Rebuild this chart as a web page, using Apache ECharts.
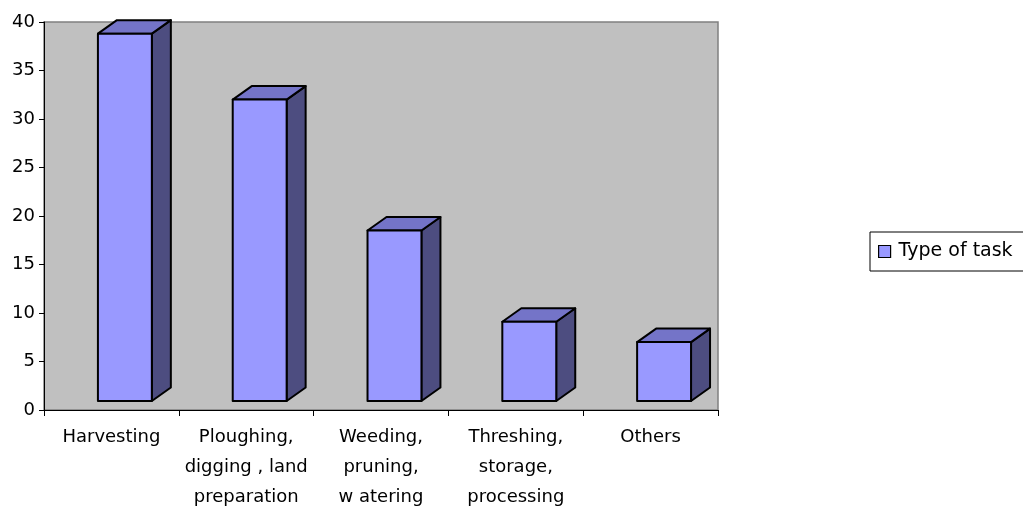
<!DOCTYPE html>
<html>
<head>
<meta charset="utf-8">
<script src="https://cdn.jsdelivr.net/npm/echarts@6/dist/echarts.min.js"></script>
<style>
  html, body { margin: 0; padding: 0; background: #ffffff; }
  #chart { width: 1023px; height: 508px; }
</style>
</head>
<body>
<div id="chart"></div>
<script>
// Share of respondents by type of farm task
const categories = [
  'Harvesting',
  'Ploughing,\ndigging , land\npreparation',
  'Weeding,\npruning,\nw atering',
  'Threshing,\nstorage,\nprocessing',
  'Others'
];
const taskValues = [38.8, 32.0, 18.5, 9.1, 7.0];
const seriesName = 'Type of task';
const yTicks = { min: 0, max: 40, interval: 5 };

const FONT = 'DejaVu Sans';
const FRONT = '#9999FF';
const SIDE = '#4D4D80';
const TOP = '#7474C8';

const chart = echarts.init(document.getElementById('chart'), null, { renderer: 'canvas' });

// Draws one column as a box: front face, right side and top.
function renderBox(params, api) {
  const idx = api.value(0);
  const val = api.value(1);
  const topPt = api.coord([idx, val]);
  const basePt = api.coord([idx, 0]);
  const band = api.size([1, 0])[0];
  const w = band * 0.4;
  const x0 = basePt[0] - band / 2 + band * 0.4;
  const yb = basePt[1] - 9;   // floor sits slightly above the axis line
  const yt = topPt[1];
  const dx = 19, dy = 13.5;  // depth of the box
  const stroke = { stroke: '#000', lineWidth: 2, lineJoin: 'round' };
  return {
    type: 'group',
    children: [
      {
        type: 'polygon',
        shape: { points: [[x0 + w, yt], [x0 + w + dx, yt - dy], [x0 + w + dx, yb - dy], [x0 + w, yb]] },
        style: Object.assign({ fill: SIDE }, stroke)
      },
      {
        type: 'polygon',
        shape: { points: [[x0, yt], [x0 + dx, yt - dy], [x0 + w + dx, yt - dy], [x0 + w, yt]] },
        style: Object.assign({ fill: TOP }, stroke)
      },
      {
        type: 'rect',
        shape: { x: x0, y: yt, width: w, height: yb - yt },
        style: Object.assign({ fill: FRONT }, stroke)
      }
    ]
  };
}

const option = {
  animation: false,
  backgroundColor: '#ffffff',
  textStyle: { fontFamily: FONT },
  grid: {
    left: 44, right: 305, top: 22, bottom: 98,
    outerBoundsMode: 'none',
    containLabel: false,
    show: true,
    backgroundColor: '#C0C0C0',
    borderColor: '#808080',
    borderWidth: 1.5
  },
  legend: {
    show: true,
    left: 870, top: 232,
    orient: 'vertical',
    data: [{ name: seriesName, icon: 'rect' }],
    itemWidth: 12, itemHeight: 12, itemGap: 0,
    padding: [10, 12, 10, 8],
    borderColor: '#000', borderWidth: 1,
    backgroundColor: '#ffffff',
    itemStyle: { color: FRONT, borderColor: '#000', borderWidth: 1.2 },
    textStyle: { fontFamily: FONT, fontSize: 19, color: '#000', padding: [2, 0, 0, 3] }
  },
  xAxis: {
    type: 'category',
    data: categories,
    boundaryGap: true,
    axisLine: { show: true, lineStyle: { color: '#000', width: 1 } },
    axisTick: { show: true, alignWithLabel: false, length: 6, lineStyle: { color: '#000' } },
    axisLabel: {
      interval: 0, color: '#000', fontFamily: FONT, fontSize: 18,
      lineHeight: 30, margin: 12, align: 'center'
    },
    splitLine: { show: false }
  },
  yAxis: {
    type: 'value',
    min: yTicks.min, max: yTicks.max, interval: yTicks.interval,
    axisLine: { show: true, lineStyle: { color: '#000', width: 1 } },
    axisTick: { show: true, length: 5, lineStyle: { color: '#000' } },
    axisLabel: { color: '#000', fontFamily: FONT, fontSize: 18, margin: 9 },
    splitLine: { show: false }
  },
  series: [{
    name: seriesName,
    type: 'custom',
    renderItem: renderBox,
    itemStyle: { color: FRONT, borderColor: '#000', borderWidth: 1.2 },
    encode: { x: 0, y: 1 },
    data: taskValues.map((v, i) => [i, v]),
    clip: false
  }]
};

chart.setOption(option);
</script>
</body>
</html>
